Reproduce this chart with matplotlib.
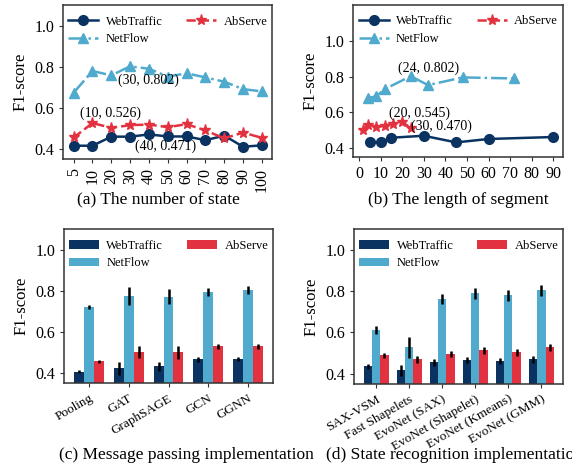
import matplotlib
matplotlib.use('Agg')
import matplotlib.pyplot as plt
import numpy as np

plt.rcParams['font.family'] = ['Liberation Serif', 'DejaVu Serif']
plt.rcParams['mathtext.fontset'] = 'stix'

C_WEB = '#0a3361'
C_NET = '#50aacd'
C_AB = '#e3323f'

# (a) number of states
states = ['5', '10', '20', '30', '40', '50', '60', '70', '80', '90', '100']
a_web = [0.416, 0.416, 0.460, 0.460, 0.471, 0.461, 0.461, 0.443, 0.465, 0.411, 0.418]
a_net = [0.674, 0.779, 0.758, 0.802, 0.790, 0.752, 0.768, 0.748, 0.727, 0.691, 0.680]
a_ab = [0.456, 0.526, 0.503, 0.516, 0.519, 0.506, 0.521, 0.490, 0.452, 0.480, 0.454]

# (b) length of segment
b_web_x = [5, 10, 15, 30, 45, 60, 90]
b_web = [0.437, 0.433, 0.459, 0.470, 0.433, 0.452, 0.463]
b_net_x = [4, 8, 12, 24, 32, 48, 72]
b_net = [0.680, 0.689, 0.730, 0.802, 0.752, 0.795, 0.789]
b_ab_x = [2, 4, 8, 12, 16, 20, 24]
b_ab = [0.504, 0.530, 0.517, 0.527, 0.537, 0.545, 0.515]

# (c) message passing
c_names = ['Pooling', 'GAT', 'GraphSAGE', 'GCN', 'GGNN']
c_web = [0.407, 0.422, 0.432, 0.466, 0.470]
c_web_err = [0.008, 0.030, 0.020, 0.012, 0.010]
c_net = [0.721, 0.775, 0.770, 0.794, 0.804]
c_net_err = [0.012, 0.044, 0.036, 0.019, 0.020]
c_ab = [0.456, 0.500, 0.500, 0.529, 0.529]
c_ab_err = [0.008, 0.029, 0.030, 0.014, 0.012]

# (d) state recognition
d_names = ['SAX-VSM', 'Fast Shapelets', 'EvoNet (SAX)', 'EvoNet (Shapelet)',
           'EvoNet (Kmeans)', 'EvoNet (GMM)']
d_web = [0.435, 0.416, 0.455, 0.465, 0.460, 0.469]
d_web_err = [0.012, 0.026, 0.016, 0.015, 0.015, 0.015]
d_net = [0.610, 0.527, 0.760, 0.789, 0.779, 0.803]
d_net_err = [0.019, 0.049, 0.025, 0.027, 0.028, 0.028]
d_ab = [0.489, 0.469, 0.494, 0.513, 0.503, 0.527]
d_ab_err = [0.013, 0.017, 0.015, 0.017, 0.016, 0.018]

W, H = 572, 474
fig = plt.figure(figsize=(W / 100, H / 100), dpi=100)


def make_ax(l, r, t, b):
    return fig.add_axes([l / W, 1 - b / H, (r - l) / W, (b - t) / H])


def style(ax):
    for s in ax.spines.values():
        s.set_color('#333333')
        s.set_linewidth(1.1)
    ax.tick_params(labelsize=11.5, length=3, color='#333333')
    ax.set_ylabel('F1-score', fontsize=12)
    ax.set_yticks([0.4, 0.6, 0.8, 1.0])


def add_legend(ax):
    ax.legend(loc='upper center', ncol=2, frameon=False, fontsize=9,
              handlelength=2.4, handletextpad=0.6, columnspacing=1.9,
              borderaxespad=0.45, labelspacing=0.45)


# (a)
ax = make_ax(63.3, 272.3, 5, 159.3)
xi = np.arange(len(states))
ax.plot(xi, a_web, '-', marker='o', color=C_WEB, lw=1.8, ms=7, label='WebTraffic')
ax.plot(xi, a_net, '-.', marker='^', color=C_NET, lw=1.8, ms=7, label='NetFlow')
ax.plot(xi, a_ab, '--', marker='*', color=C_AB, lw=1.8, ms=8, label='AbServe')
ax.set_xticks(xi)
ax.set_xticklabels(states, rotation=90)
ax.set_xlim(-0.55, 10.55)
ax.set_ylim(0.35, 1.1)
style(ax)
add_legend(ax)
ax.text(3.95, 0.735, '(30, 0.802)', ha='center', va='center', fontsize=10)
ax.text(1.95, 0.574, '(10, 0.526)', ha='center', va='center', fontsize=10)
ax.text(4.9, 0.413, '(40, 0.471)', ha='center', va='center', fontsize=10)
fig.text(158 / W, 1 - 199 / H, '(a) The number of state', ha='center', va='center', fontsize=12.5)

# (b)
ax = make_ax(353.3, 563.3, 4.7, 157.3)
ax.plot(b_web_x, b_web, '-', marker='o', color=C_WEB, lw=1.8, ms=7, label='WebTraffic')
ax.plot(b_net_x, b_net, '-.', marker='^', color=C_NET, lw=1.8, ms=7, label='NetFlow')
ax.plot(b_ab_x, b_ab, '--', marker='*', color=C_AB, lw=1.8, ms=8, label='AbServe')
ax.set_xticks(range(0, 91, 10))
ax.set_xlim(-2.6, 94.6)
ax.set_ylim(0.35, 1.2)
style(ax)
add_legend(ax)
ax.text(32.1, 0.846, '(24, 0.802)', ha='center', va='center', fontsize=10)
ax.text(28.2, 0.593, '(20, 0.545)', ha='center', va='center', fontsize=10)
ax.text(38.3, 0.522, '(30, 0.470)', ha='center', va='center', fontsize=10)
fig.text(458 / W, 1 - 200 / H, '(b) The length of segment', ha='center', va='center', fontsize=12.5)


def bars(ax, names, web, web_e, net, net_e, ab, ab_e):
    x = np.arange(len(names))
    w = 0.25
    ek = dict(lw=1.8, ecolor='black', capsize=0)
    ax.bar(x - w, web, w, yerr=web_e, color=C_WEB, error_kw=ek, label='WebTraffic')
    ax.bar(x, net, w, yerr=net_e, color=C_NET, error_kw=ek, label='NetFlow')
    ax.bar(x + w, ab, w, yerr=ab_e, color=C_AB, error_kw=ek, label='AbServe')
    ax.set_xticks(x)
    ax.set_xticklabels(names, rotation=30, ha='right', rotation_mode='anchor', fontsize=9.5)
    ax.set_ylim(0.35, 1.1)
    style(ax)
    ax.tick_params(axis='x', labelsize=9.5)
    add_legend(ax)


# (c)
ax = make_ax(64.3, 272.7, 229, 383.3)
bars(ax, c_names, c_web, c_web_err, c_net, c_net_err, c_ab, c_ab_err)
fig.text(186 / W, 1 - 455 / H, '(c) Message passing implementation', ha='center', va='center', fontsize=12.5)

# (d)
ax = make_ax(354.3, 563.3, 229, 384)
bars(ax, d_names, d_web, d_web_err, d_net, d_net_err, d_ab, d_ab_err)
fig.text(454 / W, 1 - 455 / H, '(d) State recognition implementation', ha='center', va='center', fontsize=12.5)

fig.savefig('out.png', dpi=100)
